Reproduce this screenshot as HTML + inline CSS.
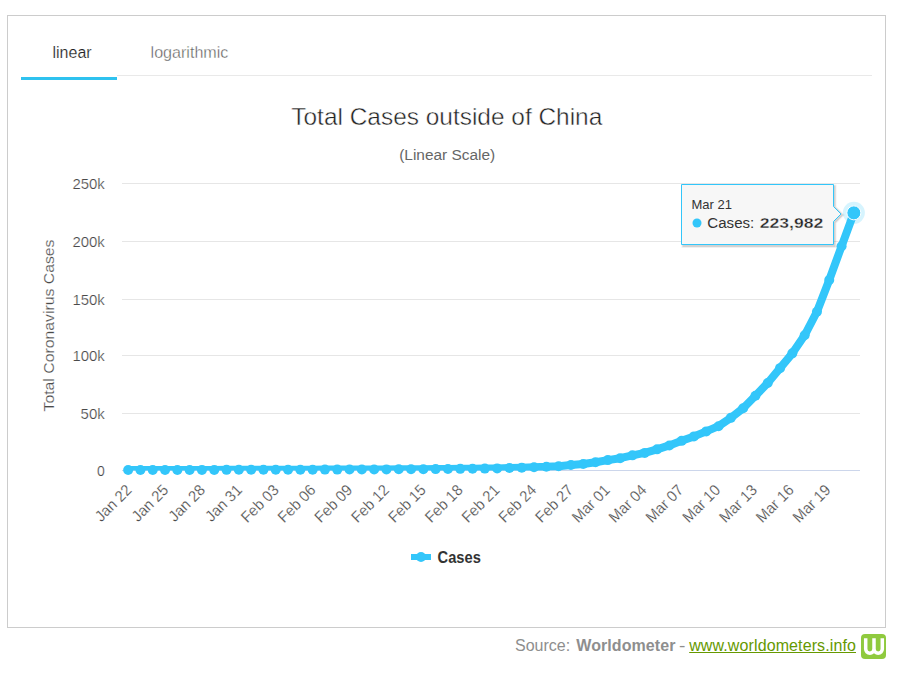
<!DOCTYPE html><html><head><meta charset="utf-8"><style>html,body{margin:0;padding:0;background:#fff;width:907px;height:673px;overflow:hidden}svg{position:absolute;left:0;top:0}text{font-family:"Liberation Sans",sans-serif}</style></head><body>
<svg width="907" height="673" viewBox="0 0 907 673">
<rect x="7.5" y="15.5" width="878" height="612" fill="#fff" stroke="#cccccc" stroke-width="1"/>
<text x="52.5" y="58" font-size="16" fill="#222" stroke="#fff" stroke-width="0.2">linear</text>
<text x="150.6" y="58" font-size="16" fill="#5a5a5a" stroke="#fff" stroke-width="0.35" textLength="77.8" lengthAdjust="spacingAndGlyphs">logarithmic</text>
<rect x="117" y="75" width="755" height="1" fill="#e9e9e9"/>
<rect x="21" y="77" width="96" height="3" fill="#2fc2ef"/>
<text x="446.8" y="125" font-size="24" fill="#222" stroke="#fff" stroke-width="0.45" text-anchor="middle" textLength="311" lengthAdjust="spacingAndGlyphs">Total Cases outside of China</text>
<text x="447.2" y="160" font-size="14" fill="#666" text-anchor="middle" textLength="96" lengthAdjust="spacingAndGlyphs">(Linear Scale)</text>
<rect x="122" y="183" width="738" height="1" fill="#e6e6e6"/>
<rect x="122" y="241" width="738" height="1" fill="#e6e6e6"/>
<rect x="122" y="299" width="738" height="1" fill="#e6e6e6"/>
<rect x="122" y="355" width="738" height="1" fill="#e6e6e6"/>
<rect x="122" y="413" width="738" height="1" fill="#e6e6e6"/>
<rect x="122" y="470" width="738" height="1" fill="#ccd6eb"/>
<text x="104.8" y="189" font-size="14" fill="#4a4a4a" stroke="#fff" stroke-width="0.22" text-anchor="end" textLength="32.4" lengthAdjust="spacingAndGlyphs">250k</text>
<text x="104.8" y="247" font-size="14" fill="#4a4a4a" stroke="#fff" stroke-width="0.22" text-anchor="end" textLength="32.4" lengthAdjust="spacingAndGlyphs">200k</text>
<text x="104.8" y="305" font-size="14" fill="#4a4a4a" stroke="#fff" stroke-width="0.22" text-anchor="end" textLength="32.4" lengthAdjust="spacingAndGlyphs">150k</text>
<text x="104.8" y="361" font-size="14" fill="#4a4a4a" stroke="#fff" stroke-width="0.22" text-anchor="end" textLength="32.4" lengthAdjust="spacingAndGlyphs">100k</text>
<text x="104.8" y="419" font-size="14" fill="#4a4a4a" stroke="#fff" stroke-width="0.22" text-anchor="end" textLength="24.2" lengthAdjust="spacingAndGlyphs">50k</text>
<text x="104.8" y="476" font-size="14" fill="#4a4a4a" stroke="#fff" stroke-width="0.22" text-anchor="end" textLength="7.8" lengthAdjust="spacingAndGlyphs">0</text>
<text transform="translate(54,325.5) rotate(-90)" x="0" y="0" font-size="15" fill="#4a4a4a" stroke="#fff" stroke-width="0.22" text-anchor="middle" textLength="172" lengthAdjust="spacingAndGlyphs">Total Coronavirus Cases</text>
<text transform="translate(132.60,491.0) rotate(-45)" x="0" y="0" font-size="15.5" fill="#4a4a4a" stroke="#fff" stroke-width="0.22" text-anchor="end" textLength="44.5" lengthAdjust="spacingAndGlyphs">Jan 22</text>
<text transform="translate(169.39,491.0) rotate(-45)" x="0" y="0" font-size="15.5" fill="#4a4a4a" stroke="#fff" stroke-width="0.22" text-anchor="end" textLength="44.5" lengthAdjust="spacingAndGlyphs">Jan 25</text>
<text transform="translate(206.18,491.0) rotate(-45)" x="0" y="0" font-size="15.5" fill="#4a4a4a" stroke="#fff" stroke-width="0.22" text-anchor="end" textLength="44.5" lengthAdjust="spacingAndGlyphs">Jan 28</text>
<text transform="translate(242.97,491.0) rotate(-45)" x="0" y="0" font-size="15.5" fill="#4a4a4a" stroke="#fff" stroke-width="0.22" text-anchor="end" textLength="44.5" lengthAdjust="spacingAndGlyphs">Jan 31</text>
<text transform="translate(279.76,491.0) rotate(-45)" x="0" y="0" font-size="15.5" fill="#4a4a4a" stroke="#fff" stroke-width="0.22" text-anchor="end" textLength="46" lengthAdjust="spacingAndGlyphs">Feb 03</text>
<text transform="translate(316.54,491.0) rotate(-45)" x="0" y="0" font-size="15.5" fill="#4a4a4a" stroke="#fff" stroke-width="0.22" text-anchor="end" textLength="46" lengthAdjust="spacingAndGlyphs">Feb 06</text>
<text transform="translate(353.33,491.0) rotate(-45)" x="0" y="0" font-size="15.5" fill="#4a4a4a" stroke="#fff" stroke-width="0.22" text-anchor="end" textLength="46" lengthAdjust="spacingAndGlyphs">Feb 09</text>
<text transform="translate(390.12,491.0) rotate(-45)" x="0" y="0" font-size="15.5" fill="#4a4a4a" stroke="#fff" stroke-width="0.22" text-anchor="end" textLength="46" lengthAdjust="spacingAndGlyphs">Feb 12</text>
<text transform="translate(426.91,491.0) rotate(-45)" x="0" y="0" font-size="15.5" fill="#4a4a4a" stroke="#fff" stroke-width="0.22" text-anchor="end" textLength="46" lengthAdjust="spacingAndGlyphs">Feb 15</text>
<text transform="translate(463.70,491.0) rotate(-45)" x="0" y="0" font-size="15.5" fill="#4a4a4a" stroke="#fff" stroke-width="0.22" text-anchor="end" textLength="46" lengthAdjust="spacingAndGlyphs">Feb 18</text>
<text transform="translate(500.49,491.0) rotate(-45)" x="0" y="0" font-size="15.5" fill="#4a4a4a" stroke="#fff" stroke-width="0.22" text-anchor="end" textLength="46" lengthAdjust="spacingAndGlyphs">Feb 21</text>
<text transform="translate(537.28,491.0) rotate(-45)" x="0" y="0" font-size="15.5" fill="#4a4a4a" stroke="#fff" stroke-width="0.22" text-anchor="end" textLength="46" lengthAdjust="spacingAndGlyphs">Feb 24</text>
<text transform="translate(574.07,491.0) rotate(-45)" x="0" y="0" font-size="15.5" fill="#4a4a4a" stroke="#fff" stroke-width="0.22" text-anchor="end" textLength="46" lengthAdjust="spacingAndGlyphs">Feb 27</text>
<text transform="translate(610.86,491.0) rotate(-45)" x="0" y="0" font-size="15.5" fill="#4a4a4a" stroke="#fff" stroke-width="0.22" text-anchor="end" textLength="46" lengthAdjust="spacingAndGlyphs">Mar 01</text>
<text transform="translate(647.65,491.0) rotate(-45)" x="0" y="0" font-size="15.5" fill="#4a4a4a" stroke="#fff" stroke-width="0.22" text-anchor="end" textLength="46" lengthAdjust="spacingAndGlyphs">Mar 04</text>
<text transform="translate(684.44,491.0) rotate(-45)" x="0" y="0" font-size="15.5" fill="#4a4a4a" stroke="#fff" stroke-width="0.22" text-anchor="end" textLength="46" lengthAdjust="spacingAndGlyphs">Mar 07</text>
<text transform="translate(721.22,491.0) rotate(-45)" x="0" y="0" font-size="15.5" fill="#4a4a4a" stroke="#fff" stroke-width="0.22" text-anchor="end" textLength="46" lengthAdjust="spacingAndGlyphs">Mar 10</text>
<text transform="translate(758.01,491.0) rotate(-45)" x="0" y="0" font-size="15.5" fill="#4a4a4a" stroke="#fff" stroke-width="0.22" text-anchor="end" textLength="46" lengthAdjust="spacingAndGlyphs">Mar 13</text>
<text transform="translate(794.80,491.0) rotate(-45)" x="0" y="0" font-size="15.5" fill="#4a4a4a" stroke="#fff" stroke-width="0.22" text-anchor="end" textLength="46" lengthAdjust="spacingAndGlyphs">Mar 16</text>
<text transform="translate(831.59,491.0) rotate(-45)" x="0" y="0" font-size="15.5" fill="#4a4a4a" stroke="#fff" stroke-width="0.22" text-anchor="end" textLength="46" lengthAdjust="spacingAndGlyphs">Mar 19</text>
<defs><clipPath id="pc"><rect x="122" y="150" width="739" height="320.6"/></clipPath></defs>
<polyline clip-path="url(#pc)" points="128.15,469.99 140.45,469.98 152.75,469.97 165.05,469.95 177.35,469.94 189.65,469.92 201.95,469.90 214.25,469.88 226.55,469.85 238.85,469.82 251.15,469.80 263.45,469.79 275.75,469.78 288.05,469.75 300.35,469.72 312.65,469.68 324.95,469.62 337.25,469.59 349.55,469.56 361.85,469.47 374.15,469.45 386.45,469.40 398.75,469.33 411.05,469.30 423.35,469.20 435.65,469.10 447.95,468.97 460.25,468.85 472.55,468.71 484.85,468.61 497.15,468.41 509.45,468.03 521.75,467.64 534.05,467.21 546.35,466.83 558.65,466.17 570.95,465.08 583.25,464.00 595.55,462.22 607.85,460.11 620.15,458.18 632.45,455.37 644.75,452.89 657.05,449.34 669.35,445.43 681.65,440.84 693.95,436.41 706.25,431.40 718.55,426.18 730.85,417.86 743.15,408.28 755.45,395.77 767.75,382.97 780.05,368.13 792.35,353.35 804.65,335.29 816.95,311.70 829.25,279.94 841.55,246.31 853.85,212.87" fill="none" stroke="#33c6fa" stroke-width="8" stroke-linejoin="round" stroke-linecap="round"/>
<circle cx="128.15" cy="469.99" r="5" fill="#33c6fa"/>
<circle cx="140.45" cy="469.98" r="5" fill="#33c6fa"/>
<circle cx="152.75" cy="469.97" r="5" fill="#33c6fa"/>
<circle cx="165.05" cy="469.95" r="5" fill="#33c6fa"/>
<circle cx="177.35" cy="469.94" r="5" fill="#33c6fa"/>
<circle cx="189.65" cy="469.92" r="5" fill="#33c6fa"/>
<circle cx="201.95" cy="469.90" r="5" fill="#33c6fa"/>
<circle cx="214.25" cy="469.88" r="5" fill="#33c6fa"/>
<circle cx="226.55" cy="469.85" r="5" fill="#33c6fa"/>
<circle cx="238.85" cy="469.82" r="5" fill="#33c6fa"/>
<circle cx="251.15" cy="469.80" r="5" fill="#33c6fa"/>
<circle cx="263.45" cy="469.79" r="5" fill="#33c6fa"/>
<circle cx="275.75" cy="469.78" r="5" fill="#33c6fa"/>
<circle cx="288.05" cy="469.75" r="5" fill="#33c6fa"/>
<circle cx="300.35" cy="469.72" r="5" fill="#33c6fa"/>
<circle cx="312.65" cy="469.68" r="5" fill="#33c6fa"/>
<circle cx="324.95" cy="469.62" r="5" fill="#33c6fa"/>
<circle cx="337.25" cy="469.59" r="5" fill="#33c6fa"/>
<circle cx="349.55" cy="469.56" r="5" fill="#33c6fa"/>
<circle cx="361.85" cy="469.47" r="5" fill="#33c6fa"/>
<circle cx="374.15" cy="469.45" r="5" fill="#33c6fa"/>
<circle cx="386.45" cy="469.40" r="5" fill="#33c6fa"/>
<circle cx="398.75" cy="469.33" r="5" fill="#33c6fa"/>
<circle cx="411.05" cy="469.30" r="5" fill="#33c6fa"/>
<circle cx="423.35" cy="469.20" r="5" fill="#33c6fa"/>
<circle cx="435.65" cy="469.10" r="5" fill="#33c6fa"/>
<circle cx="447.95" cy="468.97" r="5" fill="#33c6fa"/>
<circle cx="460.25" cy="468.85" r="5" fill="#33c6fa"/>
<circle cx="472.55" cy="468.71" r="5" fill="#33c6fa"/>
<circle cx="484.85" cy="468.61" r="5" fill="#33c6fa"/>
<circle cx="497.15" cy="468.41" r="5" fill="#33c6fa"/>
<circle cx="509.45" cy="468.03" r="5" fill="#33c6fa"/>
<circle cx="521.75" cy="467.64" r="5" fill="#33c6fa"/>
<circle cx="534.05" cy="467.21" r="5" fill="#33c6fa"/>
<circle cx="546.35" cy="466.83" r="5" fill="#33c6fa"/>
<circle cx="558.65" cy="466.17" r="5" fill="#33c6fa"/>
<circle cx="570.95" cy="465.08" r="5" fill="#33c6fa"/>
<circle cx="583.25" cy="464.00" r="5" fill="#33c6fa"/>
<circle cx="595.55" cy="462.22" r="5" fill="#33c6fa"/>
<circle cx="607.85" cy="460.11" r="5" fill="#33c6fa"/>
<circle cx="620.15" cy="458.18" r="5" fill="#33c6fa"/>
<circle cx="632.45" cy="455.37" r="5" fill="#33c6fa"/>
<circle cx="644.75" cy="452.89" r="5" fill="#33c6fa"/>
<circle cx="657.05" cy="449.34" r="5" fill="#33c6fa"/>
<circle cx="669.35" cy="445.43" r="5" fill="#33c6fa"/>
<circle cx="681.65" cy="440.84" r="5" fill="#33c6fa"/>
<circle cx="693.95" cy="436.41" r="5" fill="#33c6fa"/>
<circle cx="706.25" cy="431.40" r="5" fill="#33c6fa"/>
<circle cx="718.55" cy="426.18" r="5" fill="#33c6fa"/>
<circle cx="730.85" cy="417.86" r="5" fill="#33c6fa"/>
<circle cx="743.15" cy="408.28" r="5" fill="#33c6fa"/>
<circle cx="755.45" cy="395.77" r="5" fill="#33c6fa"/>
<circle cx="767.75" cy="382.97" r="5" fill="#33c6fa"/>
<circle cx="780.05" cy="368.13" r="5" fill="#33c6fa"/>
<circle cx="792.35" cy="353.35" r="5" fill="#33c6fa"/>
<circle cx="804.65" cy="335.29" r="5" fill="#33c6fa"/>
<circle cx="816.95" cy="311.70" r="5" fill="#33c6fa"/>
<circle cx="829.25" cy="279.94" r="5" fill="#33c6fa"/>
<circle cx="841.55" cy="246.31" r="5" fill="#33c6fa"/>
<circle cx="853.85" cy="212.87" r="11" fill="#33c6fa" fill-opacity="0.2"/>
<circle cx="853.85" cy="212.87" r="7" fill="#33c6fa" stroke="#fff" stroke-width="1"/>
<path d="M 682.5 185.5 L 833.5 185.5 L 833.5 206.5 L 841 214 L 833.5 221.5 L 833.5 245 L 682.5 245 Z" fill="none" stroke="#000" stroke-opacity="0.06" stroke-width="4" transform="translate(1,1)"/>
<path d="M 682.5 185.5 L 833.5 185.5 L 833.5 206.5 L 841 214 L 833.5 221.5 L 833.5 245 L 682.5 245 Z" fill="none" stroke="#000" stroke-opacity="0.12" stroke-width="2" transform="translate(1,1)"/>
<path d="M 681.5 184.5 L 833.5 184.5 L 833.5 206.5 L 841 214 L 833.5 221.5 L 833.5 244.5 L 681.5 244.5 Z" fill="#f7f7f7" stroke="#33c6fa" stroke-width="1"/>
<text x="691.5" y="209" font-size="13" fill="#333">Mar 21</text>
<circle cx="697" cy="223" r="4.5" fill="#33c6fa"/>
<text x="707.3" y="228" font-size="15.5" fill="#333" textLength="47" lengthAdjust="spacingAndGlyphs">Cases:</text><text x="759.8" y="228" font-size="15.5" font-weight="bold" fill="#222" stroke="#f7f7f7" stroke-width="0.35" textLength="63.5" lengthAdjust="spacingAndGlyphs">223,982</text>
<rect x="411" y="554" width="20" height="6" fill="#33c6fa"/>
<circle cx="421" cy="557" r="5" fill="#33c6fa"/>
<text x="437.6" y="562.6" font-size="16" font-weight="bold" fill="#333" textLength="43.2" lengthAdjust="spacingAndGlyphs">Cases</text>
</svg>
<div style="position:absolute;top:637px;font:16px/18px 'Liberation Sans',sans-serif;color:#8e8e8e;white-space:nowrap;left:515px">Source:</div>
<div style="position:absolute;top:637px;font:16px/18px 'Liberation Sans',sans-serif;color:#8e8e8e;white-space:nowrap;left:576.3px;font-weight:bold;letter-spacing:0.07px">Worldometer</div>
<div style="position:absolute;top:637px;font:16px/18px 'Liberation Sans',sans-serif;color:#8e8e8e;white-space:nowrap;left:679.2px;transform:scaleX(1.2);transform-origin:0 0">-</div>
<div style="position:absolute;top:637px;font:16px/18px 'Liberation Sans',sans-serif;color:#8e8e8e;white-space:nowrap;left:689.2px;color:#669900;text-decoration:underline;letter-spacing:0.11px">www.worldometers.info</div>
<svg width="907" height="673" style="position:absolute;left:0;top:0"><rect x="861" y="634" width="25" height="25" rx="4" fill="#8fca3e"/><path d="M 865.7 638.3 V 649 A 4.15 4.15 0 0 0 874 649 V 638.3 M 874 649 A 4.15 4.15 0 0 0 882.3 649 V 638.3" fill="none" stroke="#fff" stroke-width="3.5"/></svg>
</body></html>
